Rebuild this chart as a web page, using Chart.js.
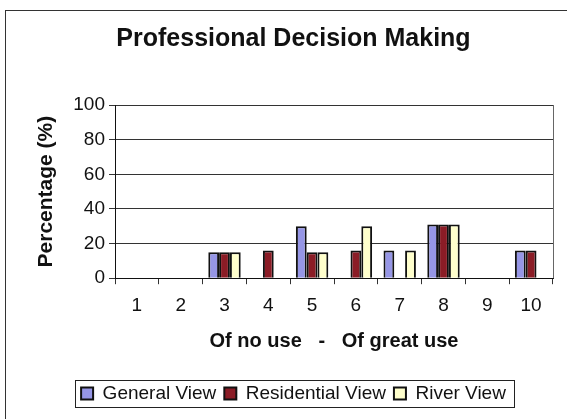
<!DOCTYPE html>
<html>
<head>
<meta charset="utf-8">
<script src="https://cdn.jsdelivr.net/npm/chart.js@4"></script>
<style>
  html, body { margin: 0; padding: 0; background: #fff; }
  #wrap { width: 567px; height: 419px; position: relative; }
</style>
</head>
<body>
<div id="wrap"><canvas id="myChart"></canvas></div>
<script>
const categories = ['1', '2', '3', '4', '5', '6', '7', '8', '9', '10'];
const generalView = [null, null, 15, null, 30, null, 16, 31, null, 16];
const residentialView = [null, null, 15, 16, 15, 16, null, 31, null, 16];
const riverView = [null, null, 15, null, 15, 30, 16, 31, null, null];
const yTicks = [0, 20, 40, 60, 80, 100];

const FONT = "'Liberation Sans', Arial, sans-serif";

// frame around the whole chart, legend box and right edge of plot area
const framePlugin = {
    id: 'frame',
    beforeDraw(chart) {
        const c = chart.ctx;
        c.save();
        c.fillStyle = '#fff';
        c.fillRect(0, 0, chart.width, chart.height);
        c.strokeStyle = '#333';
        c.lineWidth = 1;
        c.strokeRect(5.5, 10.5, chart.width - 4, chart.height);
        c.restore();
    },
    afterDraw(chart) {
        const c = chart.ctx;
        const a = chart.chartArea;
        c.save();
        c.strokeStyle = '#666';
        c.lineWidth = 1;
        c.beginPath();
        c.moveTo(Math.round(a.right) + 0.5, a.top);
        c.lineTo(Math.round(a.right) + 0.5, a.bottom);
        c.stroke();
        // box around the legend items only
        const boxes = chart.legend.legendHitBoxes;
        if (boxes && boxes.length) {
            const l = Math.min(...boxes.map(b => b.left)) - 6;
            const r = Math.max(...boxes.map(b => b.left + b.width)) + 8;
            const t = Math.min(...boxes.map(b => b.top)) - 4;
            const bt = Math.max(...boxes.map(b => b.top + b.height)) + 4;
            c.strokeStyle = '#222';
            c.strokeRect(Math.round(l) + 0.5, Math.round(t) + 0.5, Math.round(r - l), Math.round(bt - t));
        }
        c.restore();
    }
};

const config = {
    type: 'bar',
    data: {
        labels: categories,
        datasets: [
            { label: 'General View', data: generalView, backgroundColor: '#9696e6', borderColor: '#111', borderWidth: 2 },
            { label: 'Residential View', data: residentialView, backgroundColor: '#8b1c26', borderColor: '#111', borderWidth: 2 },
            { label: 'River View', data: riverView, backgroundColor: '#ffffcc', borderColor: '#111', borderWidth: 2 }
        ]
    },
    options: {
        responsive: true,
        maintainAspectRatio: false,
        animation: false,
        datasets: { bar: { categoryPercentage: 0.74, barPercentage: 1.0 } },
        layout: { padding: { left: 34, right: 14, top: 0, bottom: 6 } },
        plugins: {
            title: {
                display: true,
                text: 'Professional Decision Making',
                color: '#111',
                font: { family: FONT, size: 25, weight: 'bold' },
                padding: { top: 24, bottom: 51 }
            },
            legend: {
                position: 'bottom',
                labels: {
                    color: '#111',
                    font: { family: FONT, size: 19 },
                    boxWidth: 12,
                    boxHeight: 12,
                    padding: 8
                }
            },
            tooltip: { enabled: false }
        },
        scales: {
            x: {
                grid: { drawOnChartArea: false, drawTicks: true, tickLength: 6, color: '#333', offset: true },
                border: { color: '#111', width: 1 },
                ticks: { color: '#111', font: { family: FONT, size: 19 }, padding: 10, maxRotation: 0 },
                title: {
                    display: true,
                    text: 'Of no use   -   Of great use',
                    color: '#111',
                    font: { family: FONT, size: 20, weight: 'bold' },
                    padding: { top: 2, bottom: 23 }
                }
            },
            y: {
                min: 0,
                max: 100,
                afterBuildTicks(scale) { scale.ticks = yTicks.map(v => ({ value: v })); },
                afterFit(scale) { scale.width = 81; },
                grid: { color: '#333', tickLength: 6 },
                border: { color: '#111', width: 1 },
                ticks: { color: '#111', font: { family: FONT, size: 19 }, padding: 4 },
                title: {
                    display: true,
                    text: 'Percentage (%)',
                    color: '#111',
                    font: { family: FONT, size: 21, weight: 'bold' },
                    padding: 0
                }
            }
        }
    },
    plugins: [framePlugin]
};

const myChart = new Chart(document.getElementById('myChart'), config);
</script>
</body>
</html>
